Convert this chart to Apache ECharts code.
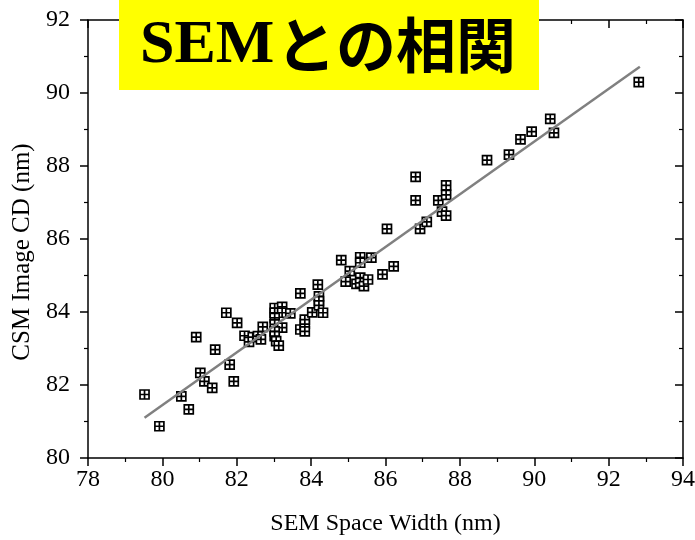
<!DOCTYPE html>
<html>
<head>
<meta charset="utf-8">
<script src="https://cdn.jsdelivr.net/npm/echarts@6/dist/echarts.min.js"></script>
<style>
html,body{margin:0;padding:0;background:#fff;}
#chart{width:695px;height:540px;}
</style>
</head>
<body>
<div id="chart"></div>
<script>
// SEM space width (nm)
const semWidth = [79.52,79.92,80.51,80.71,80.91,81.02,81.13,81.34,81.42,81.72,81.81,81.92,82.01,82.21,82.33,82.43,82.57,82.65,82.70,
  83.02,83.22,83.02,83.22,83.44,83.02,83.02,83.22,83.02,83.02,83.06,83.13,83.71,83.71,83.83,83.83,83.83,84.03,84.18,84.21,84.21,84.21,84.32,
  84.81,84.93,85.04,85.22,85.32,85.32,85.32,85.32,85.42,85.53,85.62,85.92,86.22,86.04,86.81,86.81,86.93,87.11,87.42,87.52,87.63,87.63,87.63,
  88.73,89.32,89.63,89.93,90.43,90.53,92.81];
// CSM image CD (nm)
const csmCD = [81.74,80.87,81.69,81.33,83.31,82.33,82.10,81.92,82.97,83.98,82.56,82.10,83.70,83.35,83.18,83.31,83.34,83.25,83.59,
  84.11,84.14,83.98,83.98,83.96,83.84,83.66,83.57,83.47,83.34,83.20,83.08,84.51,83.52,83.68,83.47,83.79,83.99,84.75,84.43,84.30,84.18,83.98,
  85.42,84.83,85.12,84.77,85.50,85.35,84.94,84.80,84.71,84.89,85.49,85.03,85.25,86.28,87.70,87.06,86.28,86.47,87.06,86.75,86.64,87.47,87.21,
  88.16,88.31,88.73,88.94,89.29,88.91,90.30];
// fitted line end points
const fitX = [79.52, 92.84];
const fitY = [81.10, 90.72];
const xTicks = {min: 78, max: 94, step: 2};
const yTicks = {min: 80, max: 92, step: 2};
const titleParts = ['SEM', 'との相関'];
const xName = 'SEM Space Width (nm)';
const yName = 'CSM Image CD (nm)';

const serif = '"Times New Roman","Liberation Serif",serif';
const chart = echarts.init(document.getElementById('chart'), null, {renderer: 'canvas'});

function axisBase(show, margin) {
  return {
    axisLine: {show: true, onZero: false, lineStyle: {color: '#000', width: 1.5}},
    splitLine: {show: false},
    axisTick: {show: true, inside: !show, length: 8, lineStyle: {color: '#000', width: 1.5}},
    minorTick: {show: true, splitNumber: 2, length: 4, lineStyle: {color: '#000', width: 1.2}},
    axisLabel: {show: show, color: '#000', fontFamily: serif, fontSize: 24, margin: margin || 8}
  };
}

const option = {
  backgroundColor: '#fff',
  animation: false,
  grid: {left: 88, top: 20, width: 595, height: 438, containLabel: false, outerBoundsMode: 'none'},
  xAxis: [
    Object.assign(axisBase(true, 10), {type: 'value', position: 'bottom', min: xTicks.min, max: xTicks.max, interval: xTicks.step,
      name: xName, nameLocation: 'middle', nameGap: 54,
      nameTextStyle: {color: '#000', fontFamily: serif, fontSize: 24}}),
    Object.assign(axisBase(false), {type: 'value', position: 'top', min: xTicks.min, max: xTicks.max, interval: xTicks.step})
  ],
  yAxis: [
    Object.assign(axisBase(true, 18), {type: 'value', position: 'left', min: yTicks.min, max: yTicks.max, interval: yTicks.step,
      name: yName, nameLocation: 'middle', nameGap: 52,
      nameTextStyle: {color: '#000', fontFamily: serif, fontSize: 25, padding: [0, 26, 0, 0]}}),
    Object.assign(axisBase(false), {type: 'value', position: 'right', min: yTicks.min, max: yTicks.max, interval: yTicks.step})
  ],
  series: [
    {
      type: 'scatter', xAxisIndex: 0, yAxisIndex: 0, z: 2,
      symbol: 'path://M0 0L10 0L10 10L0 10Z M5 0L5 10 M0 5L10 5',
      symbolSize: 9,
      itemStyle: {color: '#fff', borderColor: '#000', borderWidth: 1.7, opacity: 1},
      data: semWidth.map((x, i) => [x, csmCD[i]])
    },
    {
      type: 'line', xAxisIndex: 0, yAxisIndex: 0, z: 3,
      symbol: 'none',
      lineStyle: {color: '#808080', width: 2.5},
      data: fitX.map((x, i) => [x, fitY[i]])
    }
  ],
  graphic: [
    {type: 'rect', z: 100, shape: {x: 119, y: -5, width: 420, height: 95}, style: {fill: '#ffff00'}},
    {type: 'text', z: 101, x: 140, y: 46, style: {text: titleParts[0], fill: '#000',
      font: 'bold 62px "Times New Roman","Liberation Serif",serif', textVerticalAlign: 'middle', verticalAlign: 'middle'}},
    {type: 'text', z: 101, x: 276, y: 45, style: {text: titleParts[1], fill: '#000',
      font: 'bold 60px "Noto Sans CJK JP",sans-serif', textVerticalAlign: 'middle', verticalAlign: 'middle'}}
  ]
};
chart.setOption(option);
</script>
</body>
</html>
